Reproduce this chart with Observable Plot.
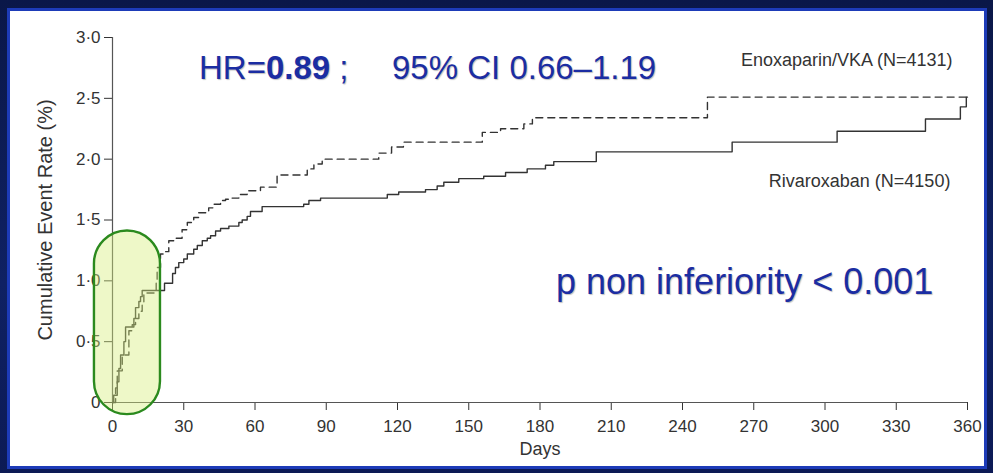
<!DOCTYPE html>
<html>
<head>
<meta charset="utf-8">
<script src="https://cdn.jsdelivr.net/npm/d3@7"></script>
<script src="https://cdn.jsdelivr.net/npm/@observablehq/plot@0.6"></script>
<style>
  html, body { margin: 0; padding: 0; }
  body { width: 993px; height: 473px; overflow: hidden; position: relative;
         background: linear-gradient(180deg, #0a1748 0%, #0f2163 60%, #0c1a55 100%); }
  #panel { position: absolute; left: 7px; top: 8px; width: 980px; height: 461px;
           box-sizing: border-box; border: 3px solid #1d3bb8; background: #ffffff; }
  #chart { position: absolute; left: 0; top: 0; }
</style>
</head>
<body>
<div id="panel"></div>
<div id="chart"></div>
<script>
// ---- data ----
const xTicks = [0, 30, 60, 90, 120, 150, 180, 210, 240, 270, 300, 330, 360];
const yTicks = [0, 0.5, 1, 1.5, 2, 2.5, 3];

const seriesNames = ["Rivaroxaban (N=4150)", "Enoxaparin/VKA (N=4131)"];

// Rivaroxaban (solid)
const rivaDay  = [0, 0.5, 2.0, 2.7, 3.4, 4.8, 5.5, 9.0, 9.7, 11.1, 11.8, 12.5, 21.9, 25.3, 26.5, 27.9, 30.0, 31.5, 34.2, 35.7, 37.8, 39.9, 41.3, 43.4, 45.5, 49.0, 53.2, 54.6, 56.7, 58.1, 63.0, 80.5, 82.7, 87.6, 115.7, 120.5, 131.8, 136.7, 139.5, 145.8, 156.3, 165.5, 174.6, 182.3, 185.8, 203.7, 260.9, 305.1, 342.3, 357.0, 359.5, 360];
const rivaRate = [0, 0.06, 0.17, 0.28, 0.39, 0.50, 0.62, 0.69, 0.78, 0.83, 0.87, 0.92, 0.98, 1.06, 1.11, 1.15, 1.18, 1.22, 1.26, 1.29, 1.33, 1.35, 1.37, 1.41, 1.43, 1.45, 1.48, 1.50, 1.53, 1.57, 1.61, 1.63, 1.66, 1.68, 1.71, 1.73, 1.75, 1.78, 1.81, 1.84, 1.86, 1.89, 1.92, 1.95, 1.98, 2.06, 2.14, 2.23, 2.33, 2.43, 2.51, 2.51];

// Enoxaparin/VKA (dashed)
const enoxDay  = [0, 1.3, 2.0, 4.1, 6.9, 8.3, 9.7, 11.1, 12.5, 13.2, 18.4, 18.8, 20.2, 21.6, 23.7, 26.5, 29.3, 31.5, 34.2, 36.3, 40.5, 42.7, 45.5, 47.6, 49.7, 53.2, 56.7, 62.3, 69.3, 82.0, 84.8, 88.3, 112.1, 117.5, 122.5, 155.7, 163.4, 173.2, 176.8, 250.5, 359.6, 360];
const enoxRate = [0, 0.12, 0.26, 0.39, 0.59, 0.64, 0.69, 0.75, 0.82, 0.90, 1.01, 1.11, 1.22, 1.24, 1.33, 1.35, 1.42, 1.48, 1.52, 1.56, 1.60, 1.63, 1.66, 1.67, 1.68, 1.71, 1.74, 1.77, 1.87, 1.92, 1.96, 2.00, 2.05, 2.10, 2.14, 2.22, 2.25, 2.29, 2.34, 2.51, 2.53, 2.53];

// highlighted early period (days, rate)
const highlightDays  = [-7.6, 20.2];
const highlightRates = [-0.10, 1.41];

const hrText = ["HR=", "0.89", " ;", "95% CI 0.66\u20131.19"];
const pText = "p non inferiority < 0.001";

// ---- build tables ----
const riva = rivaDay.map((d, i) => ({day: d, rate: rivaRate[i]}));
const enox = enoxDay.map((d, i) => ({day: d, rate: enoxRate[i]}));
const highlight = [{x1: highlightDays[0], x2: highlightDays[1], y1: highlightRates[0], y2: highlightRates[1]}];

const fmtY = d => d === 0 ? "0" : d3.format(".1f")(d).replace(".", "\u00b7");
const sans = "'Liberation Sans', Arial, sans-serif";

const chart = Plot.plot({
  width: 993,
  height: 473,
  marginLeft: 112,
  marginRight: 26,
  marginTop: 37,
  marginBottom: 71,
  style: {background: "transparent", fontFamily: sans, fontSize: "17px", color: "#333"},
  x: {domain: [0, 360], ticks: xTicks, tickSize: 8, tickPadding: 9, label: null},
  y: {domain: [0, 3], ticks: yTicks, tickFormat: fmtY, tickSize: 8, tickPadding: 4, label: null},
  marks: [
    Plot.ruleX([0], {y1: 0, y2: 3, stroke: "#555", strokeWidth: 1.2}),
    Plot.ruleY([0], {x1: 0, x2: 360, stroke: "#555", strokeWidth: 1.2}),
    Plot.line(enox, {x: "day", y: "rate", curve: "step-after", stroke: "#333", strokeWidth: 1.4, strokeDasharray: "7,5"}),
    Plot.line(riva, {x: "day", y: "rate", curve: "step-after", stroke: "#333", strokeWidth: 1.4}),
    Plot.rect(highlight, {x1: "x1", x2: "x2", y1: "y1", y2: "y2", rx: 33,
      fill: "#d6ee7c", fillOpacity: 0.42, stroke: "#2b8a1e", strokeWidth: 2.4}),
    Plot.text([seriesNames[1]], {x: 353.7, y: 2.81, text: d => d, textAnchor: "end", fontSize: 18, fill: "#333"}),
    Plot.text([seriesNames[0]], {x: 352.8, y: 1.82, text: d => d, textAnchor: "end", fontSize: 18, fill: "#333"}),
    Plot.text(["Days"], {text: d => d, frameAnchor: "bottom", dy: 52, fontSize: 18, fill: "#333"}),
    Plot.text(["Cumulative Event Rate (%)"], {text: d => d, frameAnchor: "left", textAnchor: "middle",
      rotate: -90, dx: -67, fontSize: 20, fill: "#333"})
  ]
});

// big annotations as real SVG text
const svg = d3.select(chart);
const blue = "#1b2da2";
const hr = svg.append("text")
  .attr("x", 199).attr("y", 79)
  .attr("text-anchor", "start")
  .attr("fill", blue)
  .style("font-family", sans)
  .style("font-size", "33px")
  .style("text-shadow", "1px 1px 1px rgba(0,0,0,0.25)");
hr.append("tspan").text(hrText[0]);
hr.append("tspan").style("font-weight", "bold").text(hrText[1]);
hr.append("tspan").text(hrText[2]);
hr.append("tspan").attr("x", 392).text(hrText[3]);

svg.append("text")
  .attr("x", 556).attr("y", 294)
  .attr("text-anchor", "start")
  .attr("fill", blue)
  .style("font-family", sans)
  .style("font-size", "36px")
  .style("text-shadow", "1px 1px 1px rgba(0,0,0,0.25)")
  .text(pText);

document.getElementById("chart").appendChild(chart);
</script>
</body>
</html>
